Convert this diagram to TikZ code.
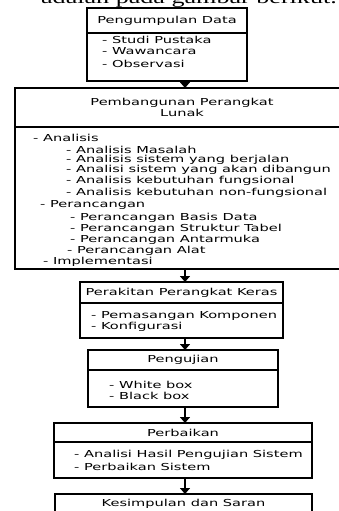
\documentclass[tikz,border=0pt]{standalone}
\usepackage{fontspec}
\setmainfont{DejaVu Sans}[FakeStretch=1.52]
\newfontfamily\serifcut{Liberation Serif}[FakeStretch=1.45]
\usetikzlibrary{arrows.meta,positioning}

\tikzset{
  boxhead/.style={draw, line width=1.6pt, outer sep=0pt, inner sep=0pt, align=center,
    font=\fontsize{9.6}{11.5}\selectfont},
  boxbody/.style={draw, line width=1.6pt, outer sep=0pt, inner sep=0pt},
  item/.style={anchor=west, inner sep=0pt, font=\fontsize{9.6}{11.5}\selectfont},
  flow/.style={line width=1.8pt, -{Triangle[width=10pt,length=6pt]}}
}

\begin{document}
\begin{tikzpicture}[x=1pt,y=-1pt]
\useasboundingbox (0,0) rectangle (339,511);
\clip (0,0) rectangle (339,511);

% sentence cut off at the top
\node[anchor=base east, inner sep=0pt, font=\serifcut\fontsize{18}{20}\selectfont] (caption) at (337,3.5) {adalah pada gambar berikut.};

\coordinate (ax) at (185,0);

% Pengumpulan Data
\node[boxhead, minimum width=160pt, minimum height=25pt] (h1) at (167,20.5) {Pengumpulan Data};
\node[boxbody, minimum width=160pt, minimum height=48pt, anchor=north] (b1) at (h1.south) {};
\foreach \n/\x/\y/\t in {1/102/39.5/Studi Pustaka, 2/102/51.5/Wawancara, 3/102/63.5/Observasi}
  \node[item] (p\n) at (\x,\y) {- \t};

% Pembangunan Perangkat Lunak
\node[boxhead, minimum width=334pt, minimum height=39pt] (h2) at (182,107.5) {Pembangunan Perangkat\\Lunak};
\node[boxbody, minimum width=334pt, minimum height=142pt, anchor=north] (b2) at (h2.south) {};
\foreach \n/\x/\y/\t in {1/33/137.5/Analisis, 2/66/149.5/Analisis Masalah,
    3/66/160/Analisis sistem yang berjalan, 4/66/170/Analisi sistem yang akan dibangun,
    5/66/181/Analisis kebutuhan fungsional, 6/66/193/Analisis kebutuhan non-fungsional,
    7/40/205/Perancangan, 8/70/217.5/Perancangan Basis Data,
    9/70/229/Perancangan Struktur Tabel, 10/70/240/Perancangan Antarmuka,
    11/67/251/Perancangan Alat, 12/43/262/Implementasi}
  \node[item] (s\n) at (\x,\y) {- \t};

% Perakitan Perangkat Keras
\node[boxhead, minimum width=203pt, minimum height=21pt] (h3) at (181.5,292.5) {Perakitan Perangkat Keras};
\node[boxbody, minimum width=203pt, minimum height=35pt, anchor=north] (b3) at (h3.south) {};
\foreach \n/\x/\y/\t in {1/91/316/Pemasangan Komponen, 2/91/327/Konfigurasi}
  \node[item] (r\n) at (\x,\y) {- \t};

% Pengujian
\node[boxhead, minimum width=190pt, minimum height=20pt] (h4) at (183,360) {Pengujian};
\node[boxbody, minimum width=190pt, minimum height=37pt, anchor=north] (b4) at (h4.south) {};
\foreach \n/\x/\y/\t in {1/109/385/White box, 2/109/396/Black box}
  \node[item] (u\n) at (\x,\y) {- \t};

% Perbaikan
\node[boxhead, minimum width=258pt, minimum height=19pt] (h5) at (183,432.5) {Perbaikan};
\node[boxbody, minimum width=258pt, minimum height=36pt, anchor=north] (b5) at (h5.south) {};
\foreach \n/\x/\y/\t in {1/74/455/Analisi Hasil Pengujian Sistem, 2/74/467/Perbaikan Sistem}
  \node[item] (f\n) at (\x,\y) {- \t};

% Kesimpulan dan Saran
\node[boxhead, minimum width=257pt, minimum height=20pt] (h6) at (183.5,504) {Kesimpulan dan Saran};

% arrows
\draw[flow] (b1.south -| ax) -- (h2.north -| ax);
\draw[flow] (b2.south -| ax) -- (h3.north -| ax);
\draw[flow] (b3.south -| ax) -- (h4.north -| ax);
\draw[flow] (b4.south -| ax) -- (h5.north -| ax);
\draw[flow] (b5.south -| ax) -- (h6.north -| ax);
\end{tikzpicture}
\end{document}
